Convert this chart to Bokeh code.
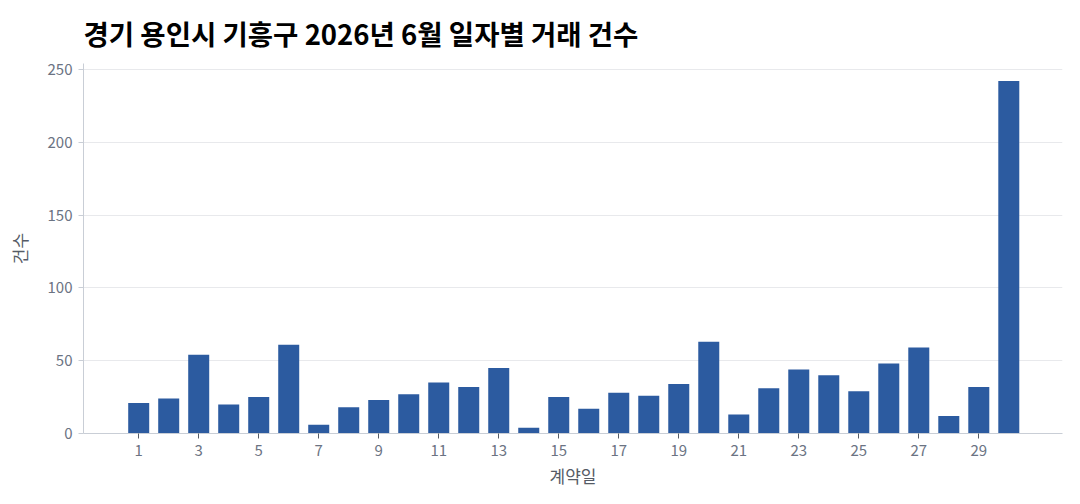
from bokeh.plotting import figure
from bokeh.embed import file_html
from bokeh.resources import INLINE
from bokeh.models import ColumnDataSource, FixedTicker, Range1d

# ---- data ----
days = list(range(1, 31))
counts = [21, 24, 54, 20, 25, 61, 6, 18, 23, 27, 35, 32, 45, 4, 25,
          17, 28, 26, 34, 63, 13, 31, 44, 40, 29, 48, 59, 12, 32, 242]
x_ticks = list(range(1, 30, 2))
y_ticks = [0, 50, 100, 150, 200, 250]
title_text = "경기 용인시 기흥구 2026년 6월 일자별 거래 건수"
x_label = "계약일"
y_label = "건수"

FONT = "Noto Sans CJK KR"
TICK_COLOR = "#6b7383"
AXIS_COLOR = "#c9ced6"
BAR_COLOR = "#2c5ba0"

src = ColumnDataSource(dict(day=days, count=counts))

p = figure(width=1072, height=496, output_backend="svg", toolbar_location=None,
           x_range=Range1d(-0.84, 31.79), y_range=Range1d(0, max(counts) * 1.05),
           min_border_left=83, min_border_right=10, min_border_top=63, min_border_bottom=63)

p.vbar(x="day", top="count", width=0.7, source=src, color=BAR_COLOR, line_color=None)

p.title.text = title_text
p.title.text_font = FONT
p.title.text_font_size = "27.5px"
p.title.text_font_style = "bold"
p.title.text_color = "#000000"
p.title.align = "left"
p.title.standoff = 21

p.xaxis.ticker = FixedTicker(ticks=x_ticks)
p.yaxis.ticker = FixedTicker(ticks=y_ticks)
p.xaxis.axis_label = x_label
p.yaxis.axis_label = y_label

for ax in (p.xaxis, p.yaxis):
    ax.axis_line_color = AXIS_COLOR
    ax.major_tick_line_color = AXIS_COLOR
    ax.minor_tick_line_color = None
    ax.major_tick_in = 0
    ax.major_tick_out = 5
    ax.major_label_text_font = FONT
    ax.major_label_text_font_size = "15px"
    ax.major_label_text_color = TICK_COLOR
    ax.axis_label_text_font = FONT
    ax.axis_label_text_font_size = "17px"
    ax.axis_label_text_font_style = "normal"
    ax.axis_label_text_color = "#555b66"
    ax.major_label_standoff = 6

p.xaxis.major_tick_line_color = "#555b66"
p.xaxis.axis_label_standoff = 4
p.yaxis.axis_label_standoff = 13

p.xgrid.grid_line_color = None
p.ygrid.grid_line_color = "#e8e9ec"
p.ygrid.grid_line_width = 1
p.outline_line_color = None
p.background_fill_color = "white"
p.border_fill_color = "white"

open("out.html", "w").write(file_html(p, INLINE))
